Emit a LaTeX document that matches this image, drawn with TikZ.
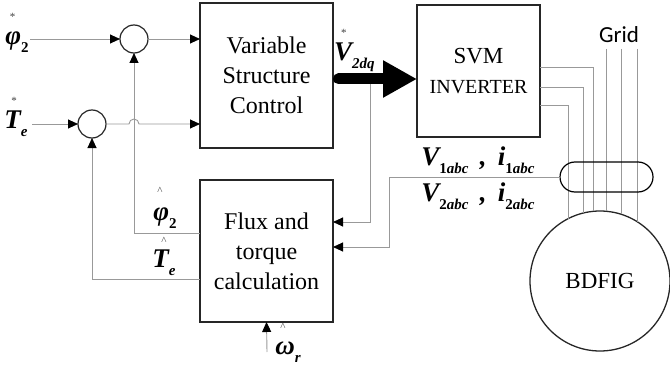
\documentclass[tikz,border=0pt]{standalone}
\usepackage{fontspec}
\setmainfont{Liberation Serif}
\newfontfamily\gridfont{Carlito}
\usetikzlibrary{arrows.meta}

% subscript set below the baseline
\newcommand{\lowsub}[1]{\raisebox{-0.28em}{\fontsize{15}{15}\selectfont #1}}
% small mark (star or hat) above a symbol: mark, horizontal offset, raise
\newcommand{\symmark}[3]{\makebox[0pt][l]{\hspace{#2}\raisebox{#3}[0pt][0pt]{%
  \fontsize{11}{11}\selectfont\mdseries\upshape\color{black!75}#1}}}

\begin{document}
\begin{tikzpicture}[x=1pt,y=-1pt,
  block/.style={draw=black!85, line width=1.3pt, inner sep=0pt, outer sep=0pt,
                font=\fontsize{24}{30}\selectfont, align=center},
  sumjn/.style={circle, draw=black!85, line width=1.2pt, minimum size=28pt,
                inner sep=0pt, outer sep=0pt},
  sig/.style={draw=black!40, line width=0.9pt},
  tip/.style={-{Triangle[length=10pt,width=9pt,color=black]}},
  power/.style={draw=black, line width=11pt, line cap=round,
                -{Triangle[length=34pt,width=35pt]}},
  sym/.style={font=\fontsize{27}{27}\selectfont\bfseries\itshape, inner sep=0pt},
]
\useasboundingbox (0,0) rectangle (670,369);

% main blocks
\node[block, minimum width=133pt, minimum height=145pt] (vsc) at (266.5,75.5)
  {Variable\\Structure\\Control};
\node[block, minimum width=133pt, minimum height=142pt] (flux) at (266.5,251)
  {Flux and\\torque\\calculation};
\node[block, minimum width=123pt, minimum height=132pt] (svm) at (478.5,71)
  {\fontsize{23}{30}\selectfont SVM\\\fontsize{20}{30}\selectfont INVERTER};

% summing junctions
\node[sumjn] (s1) at (134,39) {};
\node[sumjn] (s2) at (92,124) {};

% machine and sensor
\node[circle, draw=black!85, line width=1.3pt, minimum size=140pt, inner sep=0pt,
      outer sep=0pt, font=\fontsize{23}{23}\selectfont] (gen) at (600,281) {BDFIG};
\node[font=\gridfont\fontsize{23}{23}\selectfont, inner sep=0pt] (grid)
  at (619,35) {Grid};

% reference inputs
\coordinate (phiin) at (30,39);
\coordinate (tein) at (32,124);
\coordinate (wrin) at (267,352);
\draw[sig,tip] (phiin) -- (s1.west);
\draw[sig,tip] (tein) -- (s2.west);
\draw[sig,tip] (s1.east) -- (vsc.west |- s1.east);
\draw[sig,tip] (s2.east) -- (129,124)
  arc[start angle=180, end angle=0, radius=5pt] -- (vsc.west |- s2.east);

% estimated flux and torque fed back
\draw[sig,tip] (flux.west |- 0,233) -| (s1.south);
\draw[sig,tip] (flux.west |- 0,279) -| (s2.south);

% rotor speed
\draw[sig,tip] (wrin) -- (flux.south);

% voltage reference tapped to the estimator
\coordinate (tap) at (370,79);
\draw[sig,tip] (tap) |- (flux.east |- 0,222);

% inverter outputs to the machine
\draw[sig] (svm.east |- 0,67) -| (gen.95.7);
\draw[sig] (svm.east |- 0,87) -| (gen.104.1);
\draw[sig] (svm.east |- 0,105) -| (gen.117.2);

% grid lines
\draw[sig] (gen.85.1 |- 0,49) -- (gen.85.1);
\draw[sig] (gen.72.5 |- 0,49) -- (gen.72.5);
\draw[sig] (gen.58.1 |- 0,49) -- (gen.58.1);

% measurement sensor
\node[draw=black, line width=1.2pt, minimum width=93pt, minimum height=30pt,
      rounded corners=15pt, inner sep=0pt, outer sep=0pt] (ct) at (606.5,177) {};
\draw[sig,tip] (ct.west) -| (389,247) -- (flux.east |- 0,247);

% control voltage to the inverter
\draw[power] ([xshift=5.5pt]vsc.east |- 0,79) -- (svm.west |- 0,79);

% signal labels
\node[sym] (phis) at (17,42) {\symmark{*}{4.5pt}{24pt}φ\lowsub{\upshape 2}};
\node[sym] (tes) at (16,124) {\symmark{*}{7pt}{24pt}T\lowsub{e}};
\node[sym, anchor=west] (vdq) at (334,57) {\symmark{*}{7pt}{24pt}V\lowsub{2dq}};
\node[sym] (phih) at (165,218) {\symmark{\^{}}{4pt}{26pt}φ\lowsub{\upshape 2}};
\node[sym] (teh) at (164,263) {\symmark{\^{}}{9pt}{23pt}T\lowsub{e}};
\node[sym] (wrh) at (288,352) {\symmark{\^{}}{5pt}{24pt}ω\lowsub{r}};
\node[sym] (meas1) at (478,160) {V\lowsub{{\upshape 1}abc} \,,\, i\lowsub{{\upshape 1}abc}};
\node[sym] (meas2) at (478,196) {V\lowsub{{\upshape 2}abc} \,,\, i\lowsub{{\upshape 2}abc}};
\end{tikzpicture}
\end{document}
